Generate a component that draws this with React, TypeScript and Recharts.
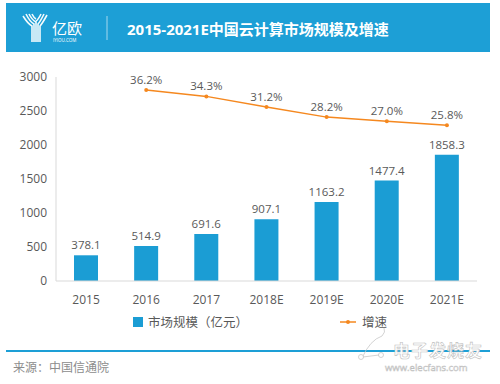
import React from 'react';
import { ComposedChart, Bar, Line, XAxis, YAxis, LabelList, Legend } from 'recharts';

const years = ['2015', '2016', '2017', '2018E', '2019E', '2020E', '2021E'];
const marketSize = [378.1, 514.9, 691.6, 907.1, 1163.2, 1477.4, 1858.3];
const growthRate = [null, 36.2, 34.3, 31.2, 28.2, 27.0, 25.8];
const yTicks = [0, 500, 1000, 1500, 2000, 2500, 3000];

const seriesNames = { size: '市场规模（亿元）', growth: '增速' };
const BLUE = '#1b9dd4';
const HEADER_BLUE = '#1d9fd6';
const ORANGE = '#f5881f';
const TEXT = '#595959';
const FONT = '"Open Sans", "Noto Sans CJK SC", sans-serif';

const data = years.map((y, i) => ({ year: y, size: marketSize[i], growth: growthRate[i] }));

const LegendContent = (props: any) => {
  const payload = props.payload || [];
  const sizeItem = payload.find((p: any) => p.dataKey === 'size');
  const growthItem = payload.find((p: any) => p.dataKey === 'growth');
  return (
    <div style={{ position: 'relative', height: 24, width: 500, fontFamily: FONT, fontSize: 12.5, color: TEXT }}>
      {sizeItem && (
        <div style={{ position: 'absolute', left: 133, top: 2, display: 'flex', alignItems: 'center' }}>
          <span style={{ width: 10, height: 10, background: sizeItem.color, display: 'inline-block', marginRight: 5 }} />
          <span>{sizeItem.value}</span>
        </div>
      )}
      {growthItem && (
        <div style={{ position: 'absolute', left: 340, top: 2, display: 'flex', alignItems: 'center' }}>
          <svg width={16} height={10} style={{ marginRight: 6 }}>
            <line x1={0} y1={5} x2={16} y2={5} stroke={growthItem.color} strokeWidth={1.5} />
            <circle cx={8} cy={5} r={2} fill={growthItem.color} />
          </svg>
          <span>{growthItem.value}</span>
        </div>
      )}
    </div>
  );
};

const Header = () => (
  <svg width={500} height={56} style={{ position: 'absolute', left: 0, top: 0 }}>
    <rect x={6} y={3} width={484} height={49} fill={HEADER_BLUE} />
    <g stroke="#ffffff" strokeWidth={1.6} fill="none" opacity={0.95}>
      <path d="M26 14 Q30 22 34 24 L34 42" />
      <path d="M29 14 Q32 20 36 22 L36 42" />
      <path d="M44 14 Q40 22 38 24 L38 42" />
      <path d="M41 14 Q38 20 36 21" />
      <path d="M32 14 Q34 18 36 19" />
      <path d="M47 15 Q42 24 40 26 L40 42" />
      <path d="M23 16 Q28 24 32 26 L32 42" />
    </g>
    <text x={52} y={34} fill="#ffffff" fontSize={15} fontFamily={FONT}>亿欧</text>
    <text x={53} y={42} fill="#ffffff" fontSize={4.5} fontFamily={FONT}>IYIOU.COM</text>
    <line x1={107} y1={16} x2={107} y2={40} stroke="#ffffff" strokeOpacity={0.6} strokeWidth={1} />
    <text x={127} y={35} fill="#ffffff" fontSize={15} fontWeight={700} fontFamily={FONT}>
      2015-2021E中国云计算市场规模及增速
    </text>
  </svg>
);

const Watermark = () => (
  <svg width={500} height={384} style={{ position: 'absolute', left: 0, top: 0, pointerEvents: 'none' }}>
    <g stroke="#c8c8c8" strokeWidth={0.8} fill="#ffffff">
      <path d="M362 358 Q370 340 382 336 Q386 332 384 328" fill="none" />
      <circle cx={361} cy={357} r={2.5} />
      <circle cx={381} cy={355} r={2.5} />
      <path d="M363 357 L379 355" fill="none" />
    </g>
    <text x={393} y={357} fontSize={17} fontWeight={700} fill="#ffffff" stroke="#c0c0c0" strokeWidth={0.6} fontFamily={FONT} letterSpacing={1}>
      电子发烧友
    </text>
    <text x={385} y={371} fontSize={9.5} fill="#ffffff" stroke="#bdbdbd" strokeWidth={0.5} fontFamily={FONT}>
      www.elecfans.com
    </text>
  </svg>
);

export default function App() {
  return (
    <div style={{ position: 'absolute', left: 0, top: 0, width: 500, height: 384, background: '#ffffff', overflow: 'hidden', fontFamily: FONT }}>
      <Header />
      <div style={{ position: 'absolute', left: 0, top: 0 }}>
        <ComposedChart width={500} height={334} data={data} margin={{ top: 77, right: 23, bottom: 0, left: 0 }}>
          <XAxis
            dataKey="year"
            axisLine={{ stroke: '#d9d9d9' }}
            tickLine={false}
            tickMargin={8}
            height={29}
            tick={{ fill: TEXT, fontSize: 12, fontFamily: FONT }}
            interval={0}
          />
          <YAxis
            yAxisId="left"
            domain={[0, 3000]}
            ticks={yTicks}
            width={56}
            axisLine={{ stroke: '#d9d9d9' }}
            tickLine={false}
            tickMargin={3}
            tick={{ fill: TEXT, fontSize: 12, fontFamily: FONT }}
          />
          <YAxis yAxisId="right" orientation="right" domain={[-20, 40]} hide />
          <Legend verticalAlign="bottom" height={24} wrapperStyle={{ left: 0, width: 500 }} content={<LegendContent />} />
          <Bar yAxisId="left" dataKey="size" name={seriesNames.size} fill={BLUE} barSize={24} isAnimationActive={false}>
            <LabelList
              dataKey="size"
              position="top"
              offset={6}
              formatter={(v: any) => Number(v).toFixed(1)}
              style={{ fill: TEXT, fontSize: 11.5, fontFamily: FONT }}
            />
          </Bar>
          <Line
            yAxisId="right"
            dataKey="growth"
            name={seriesNames.growth}
            stroke={ORANGE}
            strokeWidth={1.5}
            dot={{ r: 2, fill: ORANGE, stroke: ORANGE, strokeWidth: 0 }}
            activeDot={false}
            isAnimationActive={false}
            connectNulls={false}
          >
            <LabelList
              dataKey="growth"
              position="top"
              offset={6}
              formatter={(v: any) => (v == null ? '' : Number(v).toFixed(1) + '%')}
              style={{ fill: TEXT, fontSize: 11.5, fontFamily: FONT }}
            />
          </Line>
        </ComposedChart>
      </div>
      <div style={{ position: 'absolute', left: 6, top: 350, width: 484, height: 1.5, background: HEADER_BLUE }} />
      <Watermark />
      <div style={{ position: 'absolute', left: 13, top: 360, fontSize: 12, color: '#8c8c8c', fontFamily: FONT, lineHeight: '16px' }}>
        来源：中国信通院
      </div>
    </div>
  );
}
